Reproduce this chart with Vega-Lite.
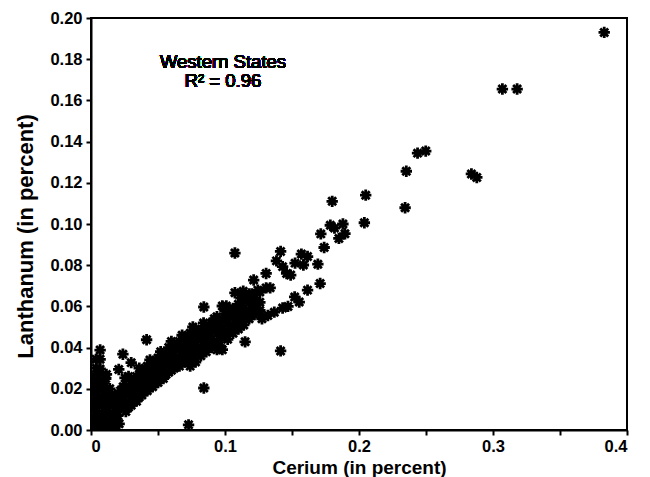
{
  "$schema": "https://vega.github.io/schema/vega-lite/v6.json",
  "width": 536,
  "height": 412,
  "autosize": {"type": "none"},
  "padding": {"left": 91, "top": 18, "right": 23, "bottom": 47},
  "background": "white",
  "config": {
    "view": {"stroke": "black", "strokeWidth": 2},
    "axis": {
      "grid": false,
      "domainColor": "black",
      "domainWidth": 2,
      "tickColor": "black",
      "tickWidth": 2,
      "tickSize": 5,
      "labelFont": "Liberation Sans",
      "labelFontWeight": "bold",
      "labelFontSize": 16.5,
      "labelColor": "black",
      "titleFont": "Liberation Sans",
      "titleFontWeight": "bold",
      "titleColor": "black"
    }
  },
  "data": {
    "values": [
      {"ce": 0.002, "la": 0.002}, {"ce": 0.002, "la": 0.006}, {"ce": 0.002, "la": 0.010}, {"ce": 0.002, "la": 0.014}, {"ce": 0.002, "la": 0.018}, {"ce": 0.002, "la": 0.022}, {"ce": 0.003, "la": 0.026},
      {"ce": 0.006, "la": 0.001}, {"ce": 0.006, "la": 0.004}, {"ce": 0.006, "la": 0.008}, {"ce": 0.006, "la": 0.012}, {"ce": 0.006, "la": 0.016}, {"ce": 0.006, "la": 0.020}, {"ce": 0.006, "la": 0.024}, {"ce": 0.007, "la": 0.028},
      {"ce": 0.010, "la": 0.002}, {"ce": 0.010, "la": 0.005}, {"ce": 0.010, "la": 0.009}, {"ce": 0.010, "la": 0.013}, {"ce": 0.010, "la": 0.017}, {"ce": 0.010, "la": 0.021}, {"ce": 0.011, "la": 0.025},
      {"ce": 0.014, "la": 0.001}, {"ce": 0.014, "la": 0.004}, {"ce": 0.014, "la": 0.008}, {"ce": 0.014, "la": 0.012}, {"ce": 0.014, "la": 0.016}, {"ce": 0.014, "la": 0.020},
      {"ce": 0.018, "la": 0.002}, {"ce": 0.018, "la": 0.005}, {"ce": 0.018, "la": 0.009}, {"ce": 0.018, "la": 0.013}, {"ce": 0.018, "la": 0.017},
      {"ce": 0.021, "la": 0.003}, {"ce": 0.020, "la": 0.007},
      {"ce": 0.004, "la": 0.004}, {"ce": 0.004, "la": 0.012}, {"ce": 0.004, "la": 0.020}, {"ce": 0.008, "la": 0.006}, {"ce": 0.008, "la": 0.014}, {"ce": 0.008, "la": 0.022},
      {"ce": 0.012, "la": 0.003}, {"ce": 0.012, "la": 0.011}, {"ce": 0.012, "la": 0.019}, {"ce": 0.016, "la": 0.007}, {"ce": 0.016, "la": 0.015}, {"ce": 0.019, "la": 0.011},
      {"ce": 0.0068, "la": 0.0388}, {"ce": 0.0068, "la": 0.0343}, {"ce": 0.0037, "la": 0.0343}, {"ce": 0.0068, "la": 0.0296}, {"ce": 0.004, "la": 0.030},
      {"ce": 0.0238, "la": 0.0368}, {"ce": 0.030, "la": 0.0327}, {"ce": 0.0207, "la": 0.0294}, {"ce": 0.0254, "la": 0.0253}, {"ce": 0.0115, "la": 0.027}, {"ce": 0.0415, "la": 0.0438},
      {"ce": 0.022, "la": 0.011}, {"ce": 0.022, "la": 0.015}, {"ce": 0.022, "la": 0.019},
      {"ce": 0.026, "la": 0.009}, {"ce": 0.026, "la": 0.013}, {"ce": 0.026, "la": 0.017}, {"ce": 0.026, "la": 0.021},
      {"ce": 0.030, "la": 0.012}, {"ce": 0.030, "la": 0.016}, {"ce": 0.030, "la": 0.020}, {"ce": 0.030, "la": 0.024},
      {"ce": 0.034, "la": 0.014}, {"ce": 0.034, "la": 0.018}, {"ce": 0.034, "la": 0.022}, {"ce": 0.034, "la": 0.026},
      {"ce": 0.038, "la": 0.017}, {"ce": 0.038, "la": 0.021}, {"ce": 0.038, "la": 0.025}, {"ce": 0.038, "la": 0.029},
      {"ce": 0.042, "la": 0.019}, {"ce": 0.042, "la": 0.023}, {"ce": 0.042, "la": 0.027}, {"ce": 0.042, "la": 0.031},
      {"ce": 0.046, "la": 0.021}, {"ce": 0.046, "la": 0.025}, {"ce": 0.046, "la": 0.029}, {"ce": 0.046, "la": 0.033},
      {"ce": 0.050, "la": 0.023}, {"ce": 0.050, "la": 0.027}, {"ce": 0.050, "la": 0.031}, {"ce": 0.050, "la": 0.035},
      {"ce": 0.054, "la": 0.025}, {"ce": 0.054, "la": 0.029}, {"ce": 0.054, "la": 0.033}, {"ce": 0.054, "la": 0.037},
      {"ce": 0.058, "la": 0.028}, {"ce": 0.058, "la": 0.032}, {"ce": 0.058, "la": 0.036}, {"ce": 0.058, "la": 0.040},
      {"ce": 0.062, "la": 0.030}, {"ce": 0.062, "la": 0.034}, {"ce": 0.062, "la": 0.038}, {"ce": 0.062, "la": 0.042},
      {"ce": 0.066, "la": 0.031}, {"ce": 0.066, "la": 0.035}, {"ce": 0.066, "la": 0.039}, {"ce": 0.066, "la": 0.043},
      {"ce": 0.070, "la": 0.033}, {"ce": 0.070, "la": 0.037}, {"ce": 0.070, "la": 0.041}, {"ce": 0.070, "la": 0.045},
      {"ce": 0.074, "la": 0.031}, {"ce": 0.074, "la": 0.035}, {"ce": 0.074, "la": 0.039}, {"ce": 0.074, "la": 0.043}, {"ce": 0.074, "la": 0.047},
      {"ce": 0.078, "la": 0.033}, {"ce": 0.078, "la": 0.037}, {"ce": 0.078, "la": 0.041}, {"ce": 0.078, "la": 0.045}, {"ce": 0.078, "la": 0.049},
      {"ce": 0.082, "la": 0.036}, {"ce": 0.082, "la": 0.040}, {"ce": 0.082, "la": 0.044}, {"ce": 0.082, "la": 0.048},
      {"ce": 0.086, "la": 0.038}, {"ce": 0.086, "la": 0.042}, {"ce": 0.086, "la": 0.046}, {"ce": 0.086, "la": 0.050},
      {"ce": 0.090, "la": 0.040}, {"ce": 0.090, "la": 0.044}, {"ce": 0.090, "la": 0.048}, {"ce": 0.090, "la": 0.052},
      {"ce": 0.094, "la": 0.039}, {"ce": 0.094, "la": 0.043}, {"ce": 0.094, "la": 0.047}, {"ce": 0.094, "la": 0.051}, {"ce": 0.094, "la": 0.055},
      {"ce": 0.098, "la": 0.039}, {"ce": 0.098, "la": 0.045}, {"ce": 0.098, "la": 0.049}, {"ce": 0.098, "la": 0.053},
      {"ce": 0.102, "la": 0.044}, {"ce": 0.102, "la": 0.048}, {"ce": 0.102, "la": 0.052}, {"ce": 0.102, "la": 0.056},
      {"ce": 0.106, "la": 0.047}, {"ce": 0.106, "la": 0.051}, {"ce": 0.106, "la": 0.055}, {"ce": 0.106, "la": 0.059},
      {"ce": 0.110, "la": 0.049}, {"ce": 0.110, "la": 0.053}, {"ce": 0.110, "la": 0.057}, {"ce": 0.110, "la": 0.061},
      {"ce": 0.114, "la": 0.051}, {"ce": 0.114, "la": 0.055}, {"ce": 0.114, "la": 0.059}, {"ce": 0.114, "la": 0.063},
      {"ce": 0.118, "la": 0.054}, {"ce": 0.118, "la": 0.058}, {"ce": 0.118, "la": 0.062}, {"ce": 0.118, "la": 0.066},
      {"ce": 0.122, "la": 0.056}, {"ce": 0.122, "la": 0.060}, {"ce": 0.122, "la": 0.064},
      {"ce": 0.126, "la": 0.058}, {"ce": 0.126, "la": 0.062}, {"ce": 0.126, "la": 0.067},
      {"ce": 0.024, "la": 0.013}, {"ce": 0.024, "la": 0.021},
      {"ce": 0.028, "la": 0.011}, {"ce": 0.028, "la": 0.019}, {"ce": 0.028, "la": 0.026},
      {"ce": 0.032, "la": 0.014}, {"ce": 0.032, "la": 0.022},
      {"ce": 0.036, "la": 0.016}, {"ce": 0.036, "la": 0.024}, {"ce": 0.036, "la": 0.030},
      {"ce": 0.040, "la": 0.019}, {"ce": 0.040, "la": 0.027},
      {"ce": 0.044, "la": 0.021}, {"ce": 0.044, "la": 0.029}, {"ce": 0.044, "la": 0.034},
      {"ce": 0.048, "la": 0.023}, {"ce": 0.048, "la": 0.031},
      {"ce": 0.052, "la": 0.025}, {"ce": 0.052, "la": 0.033}, {"ce": 0.052, "la": 0.038},
      {"ce": 0.056, "la": 0.027}, {"ce": 0.056, "la": 0.035},
      {"ce": 0.060, "la": 0.029}, {"ce": 0.060, "la": 0.037}, {"ce": 0.060, "la": 0.043},
      {"ce": 0.064, "la": 0.032}, {"ce": 0.064, "la": 0.040},
      {"ce": 0.068, "la": 0.033}, {"ce": 0.068, "la": 0.041}, {"ce": 0.068, "la": 0.046},
      {"ce": 0.072, "la": 0.035}, {"ce": 0.072, "la": 0.043},
      {"ce": 0.076, "la": 0.036}, {"ce": 0.076, "la": 0.044}, {"ce": 0.076, "la": 0.050},
      {"ce": 0.080, "la": 0.039}, {"ce": 0.080, "la": 0.047},
      {"ce": 0.084, "la": 0.040}, {"ce": 0.084, "la": 0.048}, {"ce": 0.084, "la": 0.052},
      {"ce": 0.088, "la": 0.041}, {"ce": 0.088, "la": 0.049},
      {"ce": 0.092, "la": 0.042}, {"ce": 0.092, "la": 0.050}, {"ce": 0.092, "la": 0.054},
      {"ce": 0.096, "la": 0.041}, {"ce": 0.096, "la": 0.052},
      {"ce": 0.100, "la": 0.046}, {"ce": 0.100, "la": 0.054}, {"ce": 0.100, "la": 0.058},
      {"ce": 0.104, "la": 0.049}, {"ce": 0.104, "la": 0.057},
      {"ce": 0.108, "la": 0.050}, {"ce": 0.108, "la": 0.059},
      {"ce": 0.112, "la": 0.052}, {"ce": 0.112, "la": 0.060}, {"ce": 0.112, "la": 0.064},
      {"ce": 0.116, "la": 0.056}, {"ce": 0.116, "la": 0.064},
      {"ce": 0.120, "la": 0.058}, {"ce": 0.120, "la": 0.066},
      {"ce": 0.1276, "la": 0.054}, {"ce": 0.132, "la": 0.0556}, {"ce": 0.1368, "la": 0.0572}, {"ce": 0.143, "la": 0.0592}, {"ce": 0.147, "la": 0.060},
      {"ce": 0.152, "la": 0.0646}, {"ce": 0.1554, "la": 0.0621}, {"ce": 0.1616, "la": 0.0679}, {"ce": 0.171, "la": 0.0711},
      {"ce": 0.1074, "la": 0.0666}, {"ce": 0.1136, "la": 0.0674}, {"ce": 0.1245, "la": 0.0679}, {"ce": 0.1307, "la": 0.069}, {"ce": 0.1337, "la": 0.069},
      {"ce": 0.1214, "la": 0.0728}, {"ce": 0.1307, "la": 0.076}, {"ce": 0.0842, "la": 0.0597}, {"ce": 0.098, "la": 0.0602}, {"ce": 0.101, "la": 0.0602},
      {"ce": 0.115, "la": 0.0428}, {"ce": 0.1415, "la": 0.0384}, {"ce": 0.0842, "la": 0.0204}, {"ce": 0.0728, "la": 0.0025},
      {"ce": 0.1074, "la": 0.0859}, {"ce": 0.1415, "la": 0.0867}, {"ce": 0.1384, "la": 0.0821}, {"ce": 0.143, "la": 0.0793},
      {"ce": 0.157, "la": 0.0854}, {"ce": 0.1616, "la": 0.0842}, {"ce": 0.1585, "la": 0.0801}, {"ce": 0.1523, "la": 0.081}, {"ce": 0.1693, "la": 0.0805},
      {"ce": 0.146, "la": 0.076}, {"ce": 0.149, "la": 0.0752},
      {"ce": 0.1715, "la": 0.0952}, {"ce": 0.174, "la": 0.0886}, {"ce": 0.1786, "la": 0.0994}, {"ce": 0.1817, "la": 0.098}, {"ce": 0.188, "la": 0.100},
      {"ce": 0.185, "la": 0.093}, {"ce": 0.1895, "la": 0.0953}, {"ce": 0.180, "la": 0.111},
      {"ce": 0.205, "la": 0.114}, {"ce": 0.204, "la": 0.1006}, {"ce": 0.2344, "la": 0.1079}, {"ce": 0.2353, "la": 0.1256},
      {"ce": 0.2437, "la": 0.1344}, {"ce": 0.2498, "la": 0.1354}, {"ce": 0.2839, "la": 0.1243}, {"ce": 0.2879, "la": 0.1226},
      {"ce": 0.307, "la": 0.1655}, {"ce": 0.318, "la": 0.1655}, {"ce": 0.383, "la": 0.193}
    ]
  },
  "layer": [
    {
      "mark": {
        "type": "point",
        "shape": "M-1,0L1,0M0,-1L0,1M-0.7,-0.7L0.7,0.7M-0.7,0.7L0.7,-0.7",
        "filled": false,
        "stroke": "black",
        "strokeWidth": 2.8,
        "size": 130,
        "opacity": 1,
        "clip": true
      },
      "encoding": {
        "x": {
          "field": "ce",
          "type": "quantitative",
          "scale": {"domain": [0, 0.4], "nice": false, "zero": false},
          "axis": {
            "title": "Cerium (in percent)",
            "titleFontSize": 19,
            "values": [0, 0.05, 0.1, 0.15, 0.2, 0.25, 0.3, 0.35, 0.4],
            "labelExpr": "round(datum.value * 20) % 2 == 0 ? format(datum.value, '~g') : ''",
            "labelPadding": 3,
            "titlePadding": 4
          }
        },
        "y": {
          "field": "la",
          "type": "quantitative",
          "scale": {"domain": [0, 0.2], "nice": false, "zero": false},
          "axis": {
            "title": "Lanthanum (in percent)",
            "titleFontSize": 22,
            "titleY": 218,
            "values": [0, 0.02, 0.04, 0.06, 0.08, 0.1, 0.12, 0.14, 0.16, 0.18, 0.2],
            "format": ".2f",
            "labelPadding": 4,
            "titlePadding": 12
          }
        }
      }
    },
    {
      "mark": {"type": "text", "text": "Western States", "font": "Liberation Sans", "fontSize": 18.5, "fill": "black", "align": "center", "baseline": "alphabetic"},
      "encoding": {"x": {"datum": 0.0985, "type": "quantitative"}, "y": {"datum": 0.1757, "type": "quantitative"}}
    },
    {
      "mark": {"type": "text", "text": "R² = 0.96", "font": "Liberation Sans", "fontSize": 18.5, "fill": "black", "align": "center", "baseline": "alphabetic"},
      "encoding": {"x": {"datum": 0.0985, "type": "quantitative"}, "y": {"datum": 0.1665, "type": "quantitative"}}
    }
  ]
}
